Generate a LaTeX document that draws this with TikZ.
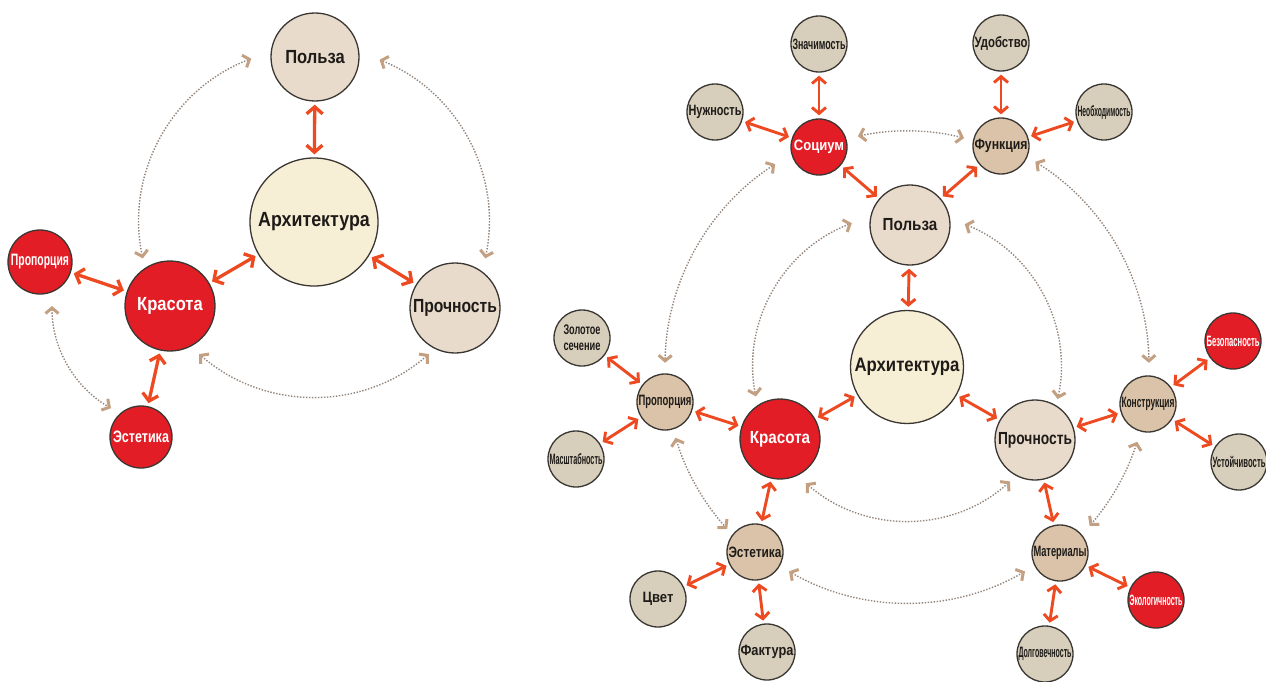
\documentclass[tikz,border=0pt]{standalone}
\usepackage{fontspec}
\setmainfont{Liberation Sans}[FakeStretch=0.87]
\usepackage{graphicx}
\usetikzlibrary{arrows.meta}

\definecolor{redc}{HTML}{E21D25}
\definecolor{leafc}{HTML}{D7CFBB}
\definecolor{tanc}{HTML}{DAC3A8}
\definecolor{beigec}{HTML}{E8DBCB}
\definecolor{creamc}{HTML}{F7EED6}
\definecolor{linkc}{HTML}{EE4A22}
\definecolor{dotc}{HTML}{94857A}
\definecolor{chevc}{HTML}{C4A083}
\definecolor{rimc}{HTML}{3A3632}
\definecolor{inkc}{HTML}{1E1B18}

\newsavebox\labbox
\newcommand\lab[2]{\sbox\labbox{#2}\ifdim\wd\labbox>#1\relax\resizebox{#1}{\ht\labbox}{\usebox\labbox}\else\usebox\labbox\fi}

\begin{document}
\begin{tikzpicture}[x=1pt,y=1pt,
    ball/.style={circle,draw=rimc,line width=1.3pt,inner sep=0pt,text=inkc},
    hot/.style={fill=redc,text=white},
    bigball/.style={ball,fill=creamc,font=\bfseries\fontsize{20.5}{22}\selectfont},
    midball/.style={ball,fill=beigec,font=\bfseries\fontsize{19}{21}\selectfont},
    midball2/.style={midball,minimum size=80pt,font=\bfseries\fontsize{17.5}{19}\selectfont},
    smlball/.style={ball,minimum size=56pt,font=\bfseries\fontsize{15}{16}\selectfont},
    leaf/.style={smlball,fill=leafc},
    hub/.style={smlball,fill=tanc},
    link/.style={<->,>={Straight Barb[length=6pt,width=14pt]},draw=linkc,line width=2.9pt,shorten <=3pt,shorten >=3pt},
    biglink/.style={link,line width=3.3pt,>={Straight Barb[length=7pt,width=16pt]}},
    dotlink/.style={<->,>={Straight Barb[length=5.5pt,width=13pt,line width=3pt,color=chevc]},draw=dotc,line width=1.4pt,dash pattern=on 1.4pt off 1.6pt}]

\path[use as bounding box,fill=white] (0,0) rectangle (1266,-682);

% left scheme
\node[bigball,minimum size=128pt] (arch1) at (314,-222) {\lab{116pt}{Архитектура}};
\node[midball,minimum size=88pt] (pol1) at (315,-57) {Польза};
\node[midball,hot,minimum size=90pt] (kras1) at (170,-306) {Красота};
\node[midball,minimum size=90pt] (proch1) at (455,-308) {\lab{84pt}{Прочность}};
\node[smlball,hot,minimum size=64pt,font=\bfseries\fontsize{16.5}{18}\selectfont] (prop1) at (40,-262) {\lab{58pt}{Пропорция}};
\node[smlball,hot,minimum size=62pt,font=\bfseries\fontsize{16.5}{18}\selectfont] (est1) at (141,-437) {\lab{56pt}{Эстетика}};

\foreach \a/\b in {pol1/arch1, arch1/kras1, arch1/proch1, prop1/kras1, kras1/est1}
    \draw[biglink] (\a) -- (\b);

\foreach \a/\b in {111/192, 68/-12, 229/311}
    \draw[dotlink] (arch1.center) ++(\a:175) arc[start angle=\a,end angle=\b,radius=175pt];
\draw[dotlink] (kras1.center) ++(180:118) arc[start angle=180,end angle=240,radius=118pt];

% right scheme
\node[bigball,minimum size=113pt,font=\bfseries\fontsize{19.5}{21}\selectfont] (arch2) at (907,-367) {\lab{105pt}{Архитектура}};
\node[midball2] (pol2) at (910,-225) {Польза};
\node[midball2,hot] (kras2) at (780,-439) {Красота};
\node[midball2] (proch2) at (1035,-440) {\lab{74pt}{Прочность}};

\foreach \n/\x/\y/\t in {znach/819/44/Значимость, udob/1001/43/Удобство, nuzh/715/112/Нужность,
    neob/1104/112/Необходимость, masht/576/459/Масштабность, cvet/658/599/Цвет,
    fakt/767/652/Фактура, ustoy/1239/462/Устойчивость, dolg/1045/654/Долговечность}
    \node[leaf] (\n) at (\x,-\y) {\lab{53pt}{\t}};

\foreach \n/\x/\y/\t in {func/1001/146/Функция, prop2/665/402/Пропорция, est2/755/552/Эстетика,
    konstr/1148/404/Конструкция, mater/1060/553/Материалы}
    \node[hub] (\n) at (\x,-\y) {\lab{53pt}{\t}};

\foreach \n/\x/\y/\t in {soc/819/147/Социум, bezop/1233/341/Безопасность, ekol/1156/600/Экологичность}
    \node[smlball,hot] (\n) at (\x,-\y) {\lab{53pt}{\t}};

\node[leaf,align=center,font=\bfseries\fontsize{14}{16}\selectfont] (zol) at (582,-338) {\lab{37pt}{Золотое}\\\lab{37pt}{сечение}};

\foreach \a/\b in {znach/soc, nuzh/soc, soc/pol2, udob/func, neob/func, func/pol2,
    pol2/arch2, arch2/kras2, arch2/proch2, zol/prop2, masht/prop2, prop2/kras2,
    kras2/est2, est2/cvet, est2/fakt, proch2/konstr, konstr/bezop, konstr/ustoy,
    proch2/mater, mater/ekol, mater/dolg}
    \draw[link] (\a) -- (\b);

\foreach \a/\b in {111/191, 68/-12, 229/312}
    \draw[dotlink] (arch2.center) ++(\a:154) arc[start angle=\a,end angle=\b,radius=154pt];
\foreach \a/\b/\r in {102/76/236, 123/179/242, 58/1/242, 197/222/242, -18/-41/242, 240/300/236}
    \draw[dotlink] (arch2.center) ++(\a:\r) arc[start angle=\a,end angle=\b,radius=\r pt];

\end{tikzpicture}
\end{document}
